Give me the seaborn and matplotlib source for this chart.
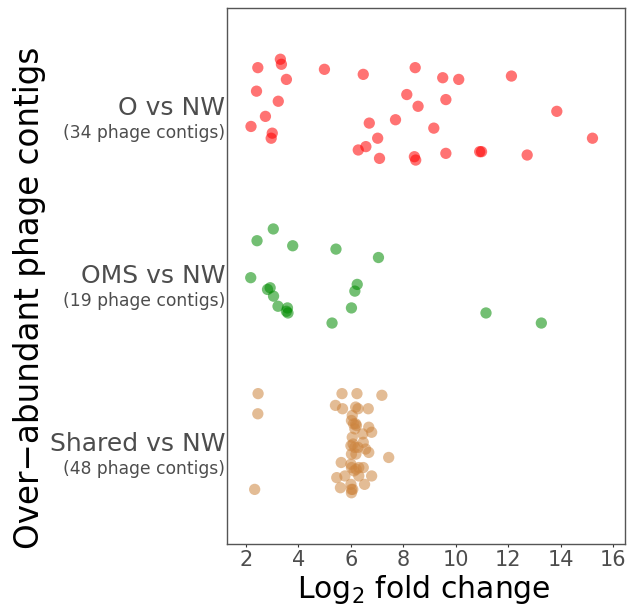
import matplotlib
matplotlib.use("Agg")
import matplotlib.pyplot as plt
import pandas as pd
import seaborn as sns

# --- Data (log2 fold change + vertical jitter offset) ---
groups = ["O vs NW", "OMS vs NW", "Shared vs NW"]
group_counts = [34, 19, 48]
group_pos = [3, 2, 1]
group_colors = ["#FF0000", "#008B00", "#CD853F"]

o_fc = [3.31, 3.35, 2.45, 4.99, 6.47, 8.45, 9.50, 10.11, 12.12, 3.54,
        2.40, 3.23, 8.13, 9.62, 8.56, 13.85, 2.74, 2.19, 3.00, 2.96,
        6.70, 7.70, 9.16, 7.02, 15.21, 6.28, 6.57, 7.09, 8.42, 8.47,
        9.62, 10.91, 10.98, 12.72]
o_jitter = [0.29, 0.26, 0.24, 0.23, 0.20, 0.24, 0.18, 0.17, 0.19, 0.17,
            0.10, 0.04, 0.08, 0.05, 0.01, -0.02, -0.05, -0.11, -0.15, -0.18,
            -0.09, -0.07, -0.12, -0.18, -0.18, -0.25, -0.23, -0.30, -0.29, -0.31,
            -0.27, -0.26, -0.26, -0.28]

oms_fc = [3.04, 2.42, 3.78, 5.43, 7.05, 2.18, 2.92, 2.82, 3.05, 6.24,
          6.15, 3.22, 3.58, 3.60, 3.54, 6.02, 5.28, 11.15, 13.26]
oms_jitter = [0.28, 0.21, 0.18, 0.16, 0.11, -0.01, -0.07, -0.08, -0.12, -0.05,
              -0.09, -0.18, -0.19, -0.22, -0.21, -0.19, -0.28, -0.22, -0.28]

shared_fc = [2.46, 2.45, 2.33, 5.66, 6.23, 7.18, 5.41, 5.68, 6.18, 6.27,
             6.66, 6.05, 6.02, 6.18, 6.21, 6.15, 6.68, 6.79, 6.45, 6.05,
             6.47, 6.00, 6.15, 6.27, 6.56, 6.68, 6.02, 6.19, 7.44, 5.63,
             6.00, 6.02, 6.30, 6.47, 6.12, 5.46, 5.77, 6.30, 6.79, 5.60,
             6.00, 6.02, 6.52, 6.02, 6.07, 6.10, 6.08, 6.20]
shared_jitter = [0.30, 0.18, -0.27, 0.30, 0.30, 0.29, 0.23, 0.21, 0.22, 0.21,
                 0.21, 0.17, 0.14, 0.12, 0.11, 0.09, 0.10, 0.07, 0.06, 0.04,
                 0.01, -0.01, -0.02, -0.02, -0.03, -0.05, -0.06, -0.06, -0.08, -0.11,
                 -0.12, -0.14, -0.14, -0.14, -0.16, -0.20, -0.19, -0.19, -0.19, -0.26,
                 -0.24, -0.27, -0.24, -0.29, -0.27, 0.12, 0.00, -0.15]

x_ticks = [2, 4, 6, 8, 10, 12, 14, 16]


def build_frame():
    parts = []
    for name, pos, fc, jit in zip(groups, group_pos,
                                  [o_fc, oms_fc, shared_fc],
                                  [o_jitter, oms_jitter, shared_jitter]):
        parts.append(pd.DataFrame({"group": name, "log2fc": fc,
                                   "ypos": [pos + j for j in jit]}))
    return pd.concat(parts, ignore_index=True)


df = build_frame()

sns.set_style("white")
plt.rcParams["font.family"] = ["DejaVu Sans"]

W, H = 635, 613
fig = plt.figure(figsize=(W / 100, H / 100), dpi=100)
ax = fig.add_axes([227 / W, 1 - 544 / H, (625 - 227) / W, (544 - 8) / H])

sns.scatterplot(data=df, x="log2fc", y="ypos", hue="group",
                palette=dict(zip(groups, group_colors)), s=66, alpha=0.55,
                linewidth=0, legend=False, ax=ax)

ax.set_xlim(1.275, 16.45)
ax.set_ylim(0.405, 3.595)
ax.set_xticks(x_ticks)
ax.set_xticklabels([str(t) for t in x_ticks], fontsize=15, color="#4D4D4D")
ax.set_yticks([])
ax.tick_params(axis="x", length=2.5, width=0.8, color="#333333", pad=2,
               bottom=True)
ax.set_xlabel("")
ax.set_ylabel("")
for sp in ax.spines.values():
    sp.set_color("#555555")
    sp.set_linewidth(1.0)

# two-line category labels: big name + small count underneath
ytrans = ax.get_yaxis_transform()
for name, pos, n in zip(groups, group_pos, group_counts):
    ax.text(-0.004, pos, name, transform=ytrans, ha="right", va="center",
            fontsize=18, color="#4D4D4D")
    ax.text(-0.004, pos - 0.148, f"({n} phage contigs)", transform=ytrans,
            ha="right", va="center", fontsize=12.3, color="#4D4D4D")

fig.text(30 / W, 1 - 298 / H, "Over\u2212abundant phage contigs", rotation=90,
         ha="center", va="center", fontsize=23.5, color="black")
fig.text(424 / W, 1 - 590 / H, r"Log$_2$ fold change", ha="center",
         va="center", fontsize=21.5, color="black")

fig.savefig("out.png", dpi=100)
